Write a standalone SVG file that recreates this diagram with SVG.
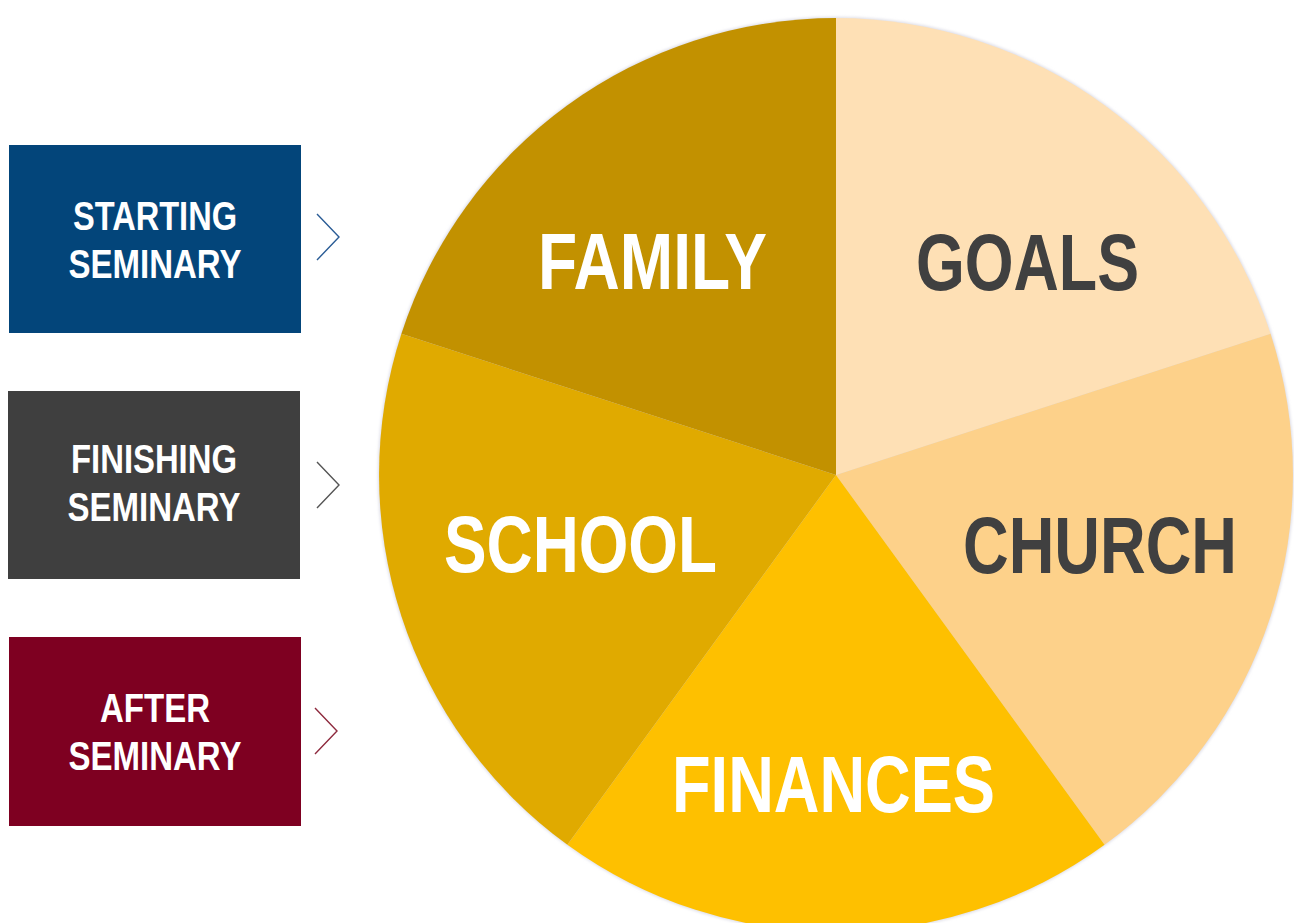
<svg xmlns="http://www.w3.org/2000/svg" width="1294" height="923" viewBox="0 0 1294 923">
<style>
.box-text{font-family:"Liberation Sans",Arial,sans-serif;font-weight:bold;font-size:40px;fill:#ffffff;text-anchor:middle}
.pie-text{font-family:"Liberation Sans",Arial,sans-serif;font-weight:bold;font-size:80px;text-anchor:start}
.light{fill:#ffffff}
.dark{fill:#404040}
.chev{fill:none;stroke-width:1.4}
</style>
<defs>
<filter id="soft" x="-5%" y="-5%" width="110%" height="110%">
<feGaussianBlur stdDeviation="1.5"/>
</filter>
</defs>
<rect width="1294" height="923" fill="#ffffff"/>
<g id="pie">
<circle cx="836" cy="475" r="458" fill="#dcdce6" filter="url(#soft)"/>
<g id="slice-goals"><path d="M836,475 L836,18 A457,457 0 0 1 1270.6,333.8 Z" fill="#FEE0B5"/></g>
<g id="slice-church"><path d="M836,475 L1270.6,333.8 A457,457 0 0 1 1104.6,844.7 Z" fill="#FDD18A"/></g>
<g id="slice-finances"><path d="M836,475 L1104.6,844.7 A457,457 0 0 1 567.4,844.7 Z" fill="#FEC000"/></g>
<g id="slice-school"><path d="M836,475 L567.4,844.7 A457,457 0 0 1 401.4,333.8 Z" fill="#E0AA00"/></g>
<g id="slice-family"><path d="M836,475 L401.4,333.8 A457,457 0 0 1 836,18 Z" fill="#C29100"/></g>
<text class="pie-text light" x="538" y="289" textLength="229" lengthAdjust="spacingAndGlyphs">FAMILY</text>
<text class="pie-text dark" x="916" y="290" textLength="223" lengthAdjust="spacingAndGlyphs">GOALS</text>
<text class="pie-text dark" x="963" y="573" textLength="274" lengthAdjust="spacingAndGlyphs">CHURCH</text>
<text class="pie-text light" x="444" y="572" textLength="273" lengthAdjust="spacingAndGlyphs">SCHOOL</text>
<text class="pie-text light" x="672" y="812" textLength="323" lengthAdjust="spacingAndGlyphs">FINANCES</text>
</g>
<g id="box-starting">
<rect x="9" y="145" width="292" height="188" fill="#03457A"/>
<text class="box-text" x="155" y="230" textLength="164" lengthAdjust="spacingAndGlyphs">STARTING</text>
<text class="box-text" x="155" y="278" textLength="173" lengthAdjust="spacingAndGlyphs">SEMINARY</text>
</g>
<g id="box-finishing">
<rect x="8" y="391" width="292" height="188" fill="#3F3F3F"/>
<text class="box-text" x="154" y="473" textLength="166" lengthAdjust="spacingAndGlyphs">FINISHING</text>
<text class="box-text" x="154" y="521" textLength="173" lengthAdjust="spacingAndGlyphs">SEMINARY</text>
</g>
<g id="box-after">
<rect x="9" y="637" width="292" height="189" fill="#7E0021"/>
<text class="box-text" x="155" y="722" textLength="110" lengthAdjust="spacingAndGlyphs">AFTER</text>
<text class="box-text" x="155" y="770" textLength="173" lengthAdjust="spacingAndGlyphs">SEMINARY</text>
</g>
<g id="connectors">
<polyline class="chev" points="317,214 339,237 317,260" stroke="#2A5C96"/>
<polyline class="chev" points="317,462 339,485 317,508" stroke="#555555"/>
<polyline class="chev" points="315,708 337,731 315,754" stroke="#8E2A3E"/>
</g>
</svg>
